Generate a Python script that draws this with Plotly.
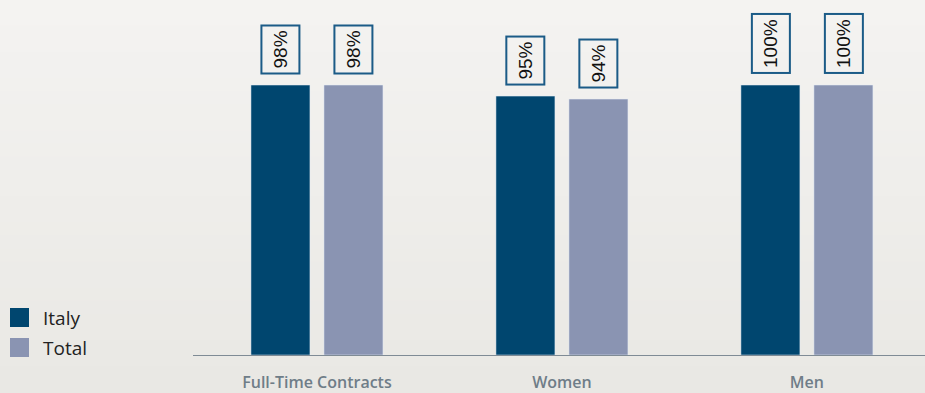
import plotly.graph_objects as go

categories = ["Full-Time Contracts", "Women", "Men"]
# bar heights (percent)
italy_values = [100, 95.9, 100]
total_values = [100, 94.8, 100]
# printed labels
italy_labels = ["98%", "95%", "100%"]
total_labels = ["98%", "94%", "100%"]
series_names = ["Italy", "Total"]

ITALY = "#00466f"
TOTAL = "#8a94b2"
BORDER = "#1b5b87"
colors = [ITALY, TOTAL]

W, H = 925, 393
ML, MR, MT, MB = 193, 0, 0, 38
PW, PH = W - ML - MR, H - MT - MB


def px_x(p):
    return (p - ML) / PW


def px_y(p):
    return (H - MB - p) / PH


fig = go.Figure()
for nm, vals, col in zip(series_names, [italy_values, total_values], colors):
    fig.add_trace(go.Bar(name=nm, x=categories, y=vals, marker_color=col,
                         showlegend=False, hoverinfo="skip"))

# labels above bars
for vals, labels, shift in [(italy_values, italy_labels, -36.5), (total_values, total_labels, 36.5)]:
    for cat, v, t in zip(categories, vals, labels):
        fig.add_annotation(x=cat, y=v, text=t, showarrow=False, textangle=-90,
                           xanchor="center", yanchor="bottom", xshift=shift, yshift=11,
                           height=28, bordercolor=BORDER, borderwidth=2, borderpad=4,
                           font=dict(family="Liberation Sans, Arial", size=19, color="#111111"))

shapes = []
# vertical background gradient
top = (0xf4, 0xf3, 0xf1)
bot = (0xe9, 0xe8, 0xe4)
n = 30
y_top = px_y(0)
y_bot = px_y(H)
for i in range(n):
    f = i / (n - 1)
    c = tuple(round(top[k] + (bot[k] - top[k]) * f) for k in range(3))
    y1 = y_top + (y_bot - y_top) * i / n
    y0 = y_top + (y_bot - y_top) * (i + 1) / n
    shapes.append(dict(type="rect", xref="paper", yref="paper",
                       x0=px_x(0), x1=px_x(W + 2), y0=y0 - 0.002, y1=y1 + 0.002,
                       fillcolor="rgb(%d,%d,%d)" % c, line=dict(width=0), layer="below"))

# manual legend
for i, (nm, col) in enumerate(zip(series_names, colors)):
    top_px = 308 + 30 * i
    shapes.append(dict(type="rect", xref="paper", yref="paper",
                       x0=px_x(10), x1=px_x(29), y0=px_y(top_px + 19), y1=px_y(top_px),
                       fillcolor=col, line=dict(width=0), layer="above"))
    fig.add_annotation(xref="paper", yref="paper", x=px_x(41), y=px_y(top_px + 10),
                       text=nm, showarrow=False, xanchor="left", yanchor="middle",
                       font=dict(family="Open Sans", size=19, color="#222222"))

fig.update_layout(
    width=W, height=H,
    margin=dict(l=ML, r=MR, t=MT, b=MB, autoexpand=False),
    paper_bgcolor="#efeeeb", plot_bgcolor="rgba(0,0,0,0)",
    barmode="group", bargap=0.404, bargroupgap=0.192,
    shapes=shapes,
    showlegend=False,
    xaxis=dict(type="category", range=[-0.506, 2.482], showline=True,
               linecolor="#7f8b95", linewidth=1, showgrid=False, zeroline=False,
               ticks="outside", ticklen=0, ticklabelstandoff=13,
               tickfont=dict(family="Open Sans", size=16, color="#6f7d88", weight=600)),
    yaxis=dict(range=[0, 131.5], visible=False, showgrid=False, zeroline=False),
)

fig.write_html("out.html")
